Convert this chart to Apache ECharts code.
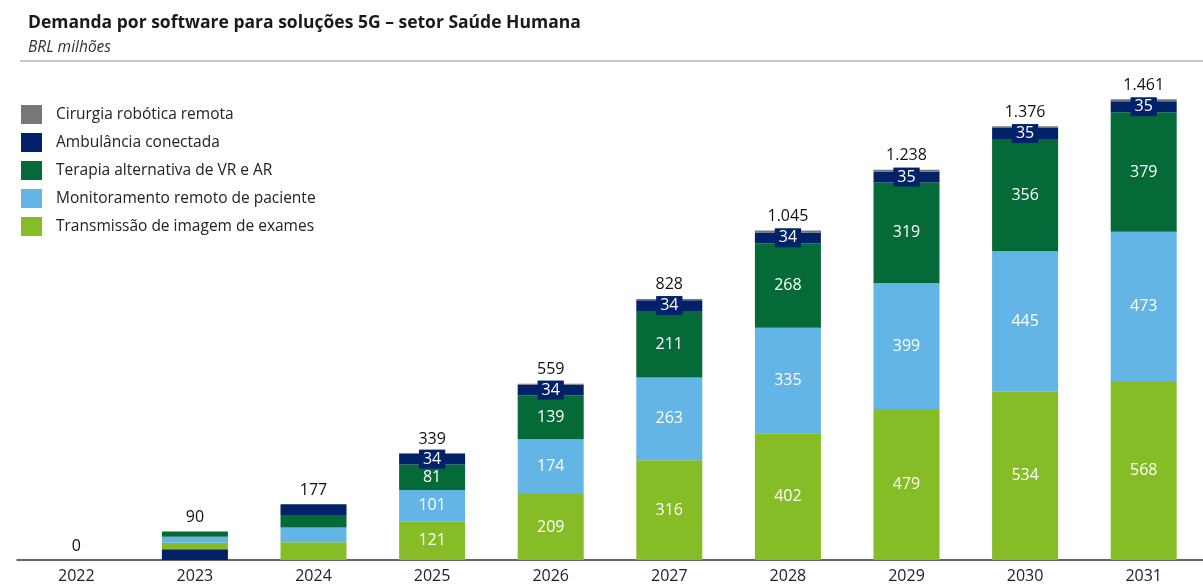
<!DOCTYPE html>
<html>
<head>
<meta charset="utf-8">
<script src="https://cdn.jsdelivr.net/npm/echarts@6/dist/echarts.min.js"></script>
<style>
  html, body { margin: 0; padding: 0; background: #fff; }
  #chart { width: 1203px; height: 586px; }
</style>
</head>
<body>
<div id="chart"></div>
<script>
const anos = ['2022', '2023', '2024', '2025', '2026', '2027', '2028', '2029', '2030', '2031'];
const transmissao = [0, 21, 56, 121, 209, 316, 402, 479, 534, 568];
const monitoramento = [0, 19, 47, 101, 174, 263, 335, 399, 445, 473];
const terapia = [0, 16, 40, 81, 139, 211, 268, 319, 356, 379];
const ambulancia = [0, 34, 34, 34, 34, 34, 34, 35, 35, 35];
const cirurgia = [0, 0, 0, 2, 3, 4, 6, 6, 6, 6];
const totais = [0, 90, 177, 339, 559, 828, 1045, 1238, 1376, 1461];

// in 2023 the ambulance segment is drawn at the bottom of the stack
const ANO_AMB_BASE = 1;
// segment labels only from 2025 on
const PRIMEIRO_ROTULO = 3;

const cores = {
  cirurgia: '#75787b',
  ambulancia: '#012169',
  terapia: '#046a38',
  monitoramento: '#62b5e5',
  transmissao: '#86bc25',
};

const FONTE = '"Open Sans", "Noto Sans", sans-serif';

function fmtMilhar(v) {
  return String(v).replace(/\B(?=(\d{3})+(?!\d))/g, '.');
}

function itens(values, skip) {
  return values.map((v, i) => ({
    value: skip && skip(i) ? 0 : v,
    label: { show: i >= PRIMEIRO_ROTULO },
  }));
}

const rotuloBranco = {
  show: true,
  position: 'inside',
  color: '#fff',
  fontSize: 16,
  fontFamily: FONTE,
};

const chart = echarts.init(document.getElementById('chart'));

chart.setOption({
  animation: false,
  textStyle: { fontFamily: FONTE },
  title: [
    {
      text: 'Demanda por software para soluções 5G – setor Saúde Humana',
      left: 23,
      top: 9,
      textStyle: { fontSize: 17.5, fontWeight: 'bold', color: '#1a1a1a', fontFamily: FONTE },
    },
    {
      text: 'BRL milhões',
      left: 23,
      top: 35,
      textStyle: { fontSize: 15.5, fontStyle: 'italic', fontWeight: 'normal', color: '#333', fontFamily: FONTE },
    },
  ],
  graphic: [
    {
      type: 'line',
      shape: { x1: 20, y1: 61, x2: 1203, y2: 61 },
      style: { stroke: '#8c8c8c', lineWidth: 1 },
    },
  ],
  legend: {
    orient: 'vertical',
    left: 16,
    top: 100,
    itemWidth: 21,
    itemHeight: 19,
    itemGap: 9,
    icon: 'rect',
    data: [
      'Cirurgia robótica remota',
      'Ambulância conectada',
      'Terapia alternativa de VR e AR',
      'Monitoramento remoto de paciente',
      'Transmissão de imagem de exames',
    ],
    textStyle: { fontSize: 15.5, color: '#222', fontFamily: FONTE, padding: [0, 0, 0, 9] },
  },
  grid: { left: 17, right: -11, top: 24, bottom: 26 },
  xAxis: {
    type: 'category',
    data: anos,
    axisLine: { lineStyle: { color: '#333', width: 1.5 } },
    axisTick: { show: false },
    axisLabel: { color: '#222', fontSize: 16, margin: 8, fontFamily: FONTE },
  },
  yAxis: {
    type: 'value',
    min: 0,
    max: 1700,
    show: false,
    splitLine: { show: false },
  },
  series: [
    {
      name: 'Ambulância conectada',
      type: 'bar',
      stack: 'total',
      barWidth: 66,
      itemStyle: { color: cores.ambulancia },
      data: ambulancia.map((v, i) => (i === ANO_AMB_BASE ? v : 0)),
    },
    {
      name: 'Transmissão de imagem de exames',
      type: 'bar',
      stack: 'total',
      barWidth: 66,
      itemStyle: { color: cores.transmissao },
      label: rotuloBranco,
      data: itens(transmissao),
    },
    {
      name: 'Monitoramento remoto de paciente',
      type: 'bar',
      stack: 'total',
      barWidth: 66,
      itemStyle: { color: cores.monitoramento },
      label: rotuloBranco,
      data: itens(monitoramento),
    },
    {
      name: 'Terapia alternativa de VR e AR',
      type: 'bar',
      stack: 'total',
      barWidth: 66,
      itemStyle: { color: cores.terapia },
      label: rotuloBranco,
      data: itens(terapia),
    },
    {
      name: 'Ambulância conectada',
      type: 'bar',
      stack: 'total',
      barWidth: 66,
      itemStyle: { color: cores.ambulancia },
      label: Object.assign({}, rotuloBranco, {
        backgroundColor: cores.ambulancia,
        padding: [1, 4, 0, 4],
        lineHeight: 18,
      }),
      data: itens(ambulancia, (i) => i === ANO_AMB_BASE),
    },
    {
      name: 'Cirurgia robótica remota',
      type: 'bar',
      stack: 'total',
      barWidth: 66,
      itemStyle: { color: cores.cirurgia },
      label: {
        show: true,
        position: 'top',
        distance: 6,
        color: '#111',
        fontSize: 16,
        fontFamily: FONTE,
        formatter: (p) => fmtMilhar(totais[p.dataIndex]),
      },
      data: cirurgia,
    },
  ],
});
</script>
</body>
</html>
